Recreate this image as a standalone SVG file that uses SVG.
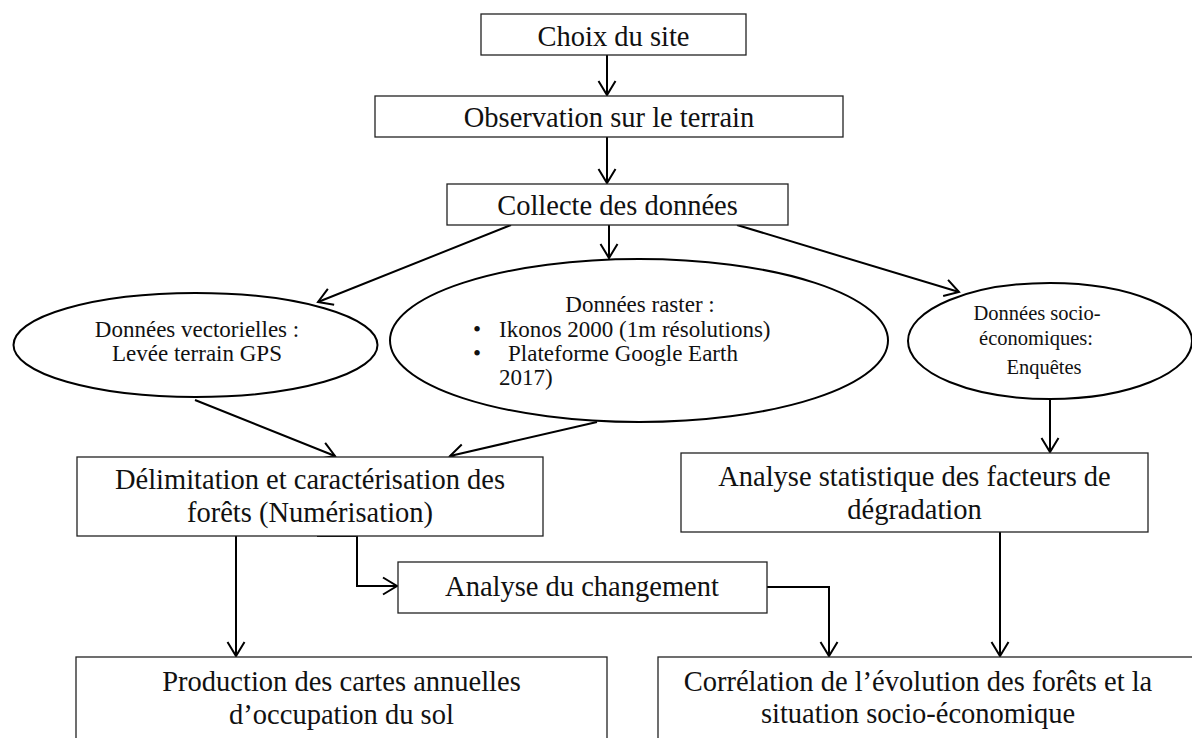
<svg xmlns="http://www.w3.org/2000/svg" width="1192" height="738" viewBox="0 0 1192 738">
<style>
.box{fill:#fff;stroke:#222;stroke-width:1.3}
.ell{fill:#fff;stroke:#000;stroke-width:2}
.t{font-family:"Liberation Serif","Times New Roman",serif;font-size:28.5px;fill:#111;text-anchor:middle}
.e{font-family:"Liberation Serif","Times New Roman",serif;font-size:23px;fill:#111;text-anchor:middle}
.s{font-family:"Liberation Serif","Times New Roman",serif;font-size:20.5px;fill:#111;text-anchor:middle}
.l{text-anchor:start}
.c{fill:none;stroke:#000;stroke-width:2;marker-end:url(#a)}
</style>
<defs>
<marker id="a" markerUnits="userSpaceOnUse" markerWidth="30" markerHeight="30" viewBox="-15 -15 30 30" refX="0" refY="0" orient="auto">
<path d="M-14,-8.5 L0,0 L-14,8.5" fill="none" stroke="#000" stroke-width="2"/>
</marker>
</defs>
<g id="connectors">
<line class="c" x1="607" y1="55" x2="607" y2="95"/>
<line class="c" x1="607" y1="137" x2="607" y2="183"/>
<line class="c" x1="609" y1="225" x2="609" y2="258"/>
<line class="c" x1="511" y1="225" x2="318" y2="302"/>
<line class="c" x1="737" y1="225" x2="959" y2="292"/>
<line class="c" x1="195" y1="400" x2="335" y2="456"/>
<line class="c" x1="597" y1="422" x2="450" y2="456"/>
<line class="c" x1="1050" y1="400" x2="1050" y2="452"/>
<line class="c" x1="236" y1="536" x2="236" y2="656"/>
<polyline class="c" points="317,536 357,536 357,586 397,586"/>
<polyline class="c" points="767,587 829,587 829,656"/>
<line class="c" x1="1000" y1="532" x2="1000" y2="656"/>
</g>
<g id="n-choix">
<rect class="box" x="481" y="14" width="265" height="41"/>
<text class="t" x="613.5" y="46">Choix du site</text>
</g>
<g id="n-observation">
<rect class="box" x="375" y="96" width="468" height="41"/>
<text class="t" x="609" y="127">Observation sur le terrain</text>
</g>
<g id="n-collecte">
<rect class="box" x="447" y="184" width="341" height="41"/>
<text class="t" x="617.5" y="215">Collecte des données</text>
</g>
<g id="n-vectorielles">
<ellipse class="ell" cx="195.5" cy="345" rx="182" ry="52"/>
<text class="e" x="197" y="337">Données vectorielles :</text>
<text class="e" x="197" y="361">Levée terrain GPS</text>
</g>
<g id="n-raster">
<ellipse class="ell" cx="639" cy="340.5" rx="249" ry="81.5"/>
<text class="e" x="640" y="312">Données raster :</text>
<text class="e l" x="473" y="337">•</text>
<text class="e l" x="499" y="337">Ikonos 2000 (1m résolutions)</text>
<text class="e l" x="473" y="361">•</text>
<text class="e l" x="508" y="361">Plateforme Google Earth</text>
<text class="e l" x="499" y="385">2017)</text>
</g>
<g id="n-socio">
<ellipse class="ell" cx="1050" cy="341" rx="142" ry="58"/>
<text class="s" x="1037" y="320">Données socio-</text>
<text class="s" x="1036" y="345">économiques:</text>
<text class="s" x="1044" y="374">Enquêtes</text>
</g>
<g id="n-delimitation">
<rect class="box" x="77" y="457" width="466" height="79"/>
<text class="t" x="310" y="489">Délimitation et caractérisation des</text>
<text class="t" x="310" y="522">forêts (Numérisation)</text>
</g>
<g id="n-analyse-stat">
<rect class="box" x="681" y="453" width="467" height="79"/>
<text class="t" x="914.5" y="486">Analyse statistique des facteurs de</text>
<text class="t" x="914.5" y="519">dégradation</text>
</g>
<g id="n-changement">
<rect class="box" x="398" y="562" width="369" height="51"/>
<text class="t" x="582" y="596">Analyse du changement</text>
</g>
<g id="n-production">
<rect class="box" x="76" y="657" width="531" height="100"/>
<text class="t" x="341.5" y="691">Production des cartes annuelles</text>
<text class="t" x="341.5" y="724">d’occupation du sol</text>
</g>
<g id="n-correlation">
<rect class="box" x="658" y="657" width="540" height="100"/>
<text class="t" x="918" y="691">Corrélation de l’évolution des forêts et la</text>
<text class="t" x="918" y="723">situation socio-économique</text>
</g>
</svg>
